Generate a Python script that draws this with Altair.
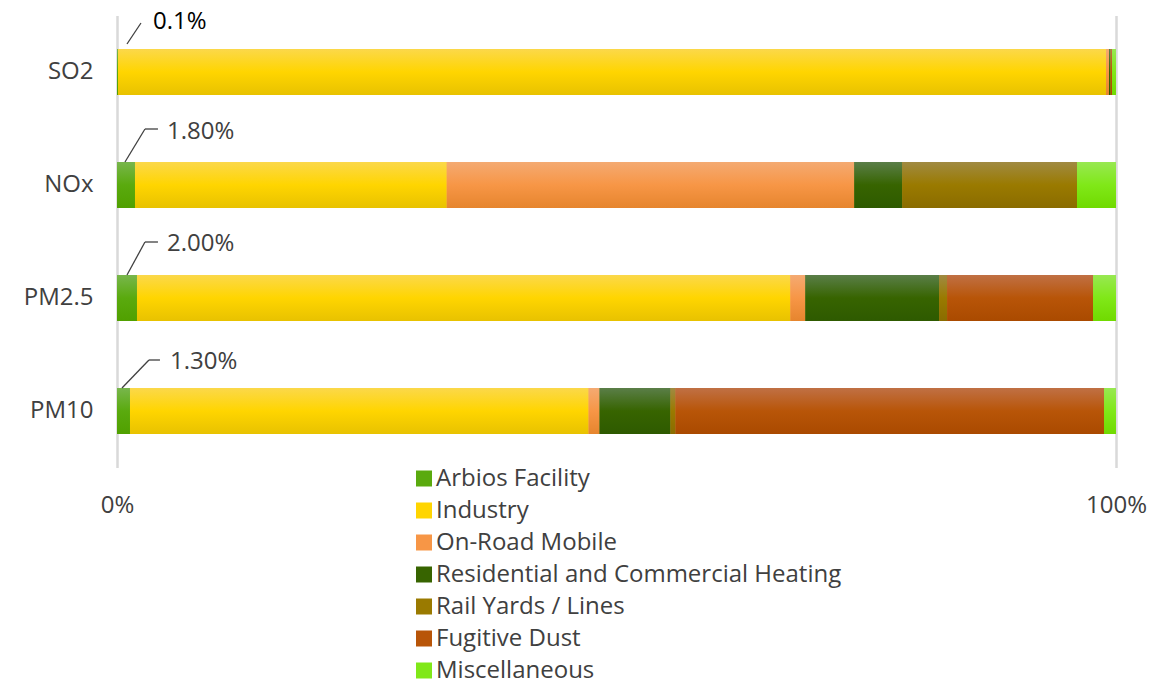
import altair as alt
import pandas as pd

pollutants = ["SO2", "NOx", "PM2.5", "PM10"]
sources = ["Arbios Facility", "Industry", "On-Road Mobile",
           "Residential and Commercial Heating", "Rail Yards / Lines",
           "Fugitive Dust", "Miscellaneous"]

arbios = [0.1, 1.8, 2.0, 1.3]
industry = [98.9, 31.2, 65.4, 45.9]
on_road = [0.3, 40.8, 1.5, 1.1]
residential = [0.1, 4.8, 13.4, 7.1]
rail = [0.1, 17.5, 0.8, 0.5]
fugitive = [0.1, 0.0, 14.6, 42.9]
misc = [0.4, 3.9, 2.3, 1.2]
series = [arbios, industry, on_road, residential, rail, fugitive, misc]

colors_mid = ["#5AAA0E", "#FFD500", "#F79646", "#376400", "#9A7A00", "#B85508", "#80E818"]
colors_top = ["#78B64C", "#FBD84A", "#F4AA72", "#5A7E48", "#A08A42", "#C07044", "#98E852"]
colors_bot = ["#50A000", "#E8C200", "#E6852E", "#2E5A00", "#8A6C00", "#AA4A00", "#70DA00"]

ann_labels = ["0.1%", "1.80%", "2.00%", "1.30%"]
ann_colors = ["#000000", "#404040", "#404040", "#404040"]
ann_tx = [0.036, 0.050, 0.050, 0.053]
ann_ty = [6.0, 116.5, 228.5, 346.5]
# leader line segments
seg_x1 = [0.010, 0.008, 0.028, 0.010, 0.028, 0.005, 0.032]
seg_x2 = [0.024, 0.028, 0.041, 0.028, 0.041, 0.032, 0.043]
seg_y1 = [28.5, 146.5, 113.5, 259.5, 226.5, 372.5, 344.5]
seg_y2 = [7.5, 113.5, 113.5, 226.5, 226.5, 344.5, 344.5]

rows = []
for i, (s, vals) in enumerate(zip(sources, series)):
    for p, v in zip(pollutants, vals):
        rows.append({"pollutant": p, "source": s, "value": v, "order": i})
df = pd.DataFrame(rows)

ann_df = pd.DataFrame({"label": ann_labels, "tc": ann_colors, "tx": ann_tx, "ty": ann_ty})
seg_df = pd.DataFrame({"x1": seg_x1, "x2": seg_x2, "y1": seg_y1, "y2": seg_y2})

FONT = "Open Sans"
x_scale = alt.Scale(domain=[0, 1], nice=False, zero=True)
y_scale = alt.Scale(domain=pollutants, paddingInner=0.593, paddingOuter=0.2965)
x_axis = alt.Axis(values=[0, 1], format=".0%", ticks=False, domain=False,
                  grid=True, gridColor="#D9D9D9", gridWidth=2.5,
                  labelFontSize=24, labelFont=FONT, labelColor="#404040",
                  labelPadding=26, labelFlush=False, title=None)

base = alt.Chart(df).mark_bar().encode(
    x=alt.X("value:Q", stack="normalize", scale=x_scale, title=None, axis=x_axis),
    y=alt.Y("pollutant:N", scale=y_scale, sort=pollutants, title=None,
            axis=alt.Axis(ticks=False, domain=False, labelFontSize=24, labelFont=FONT,
                          labelColor="#404040", labelPadding=24)),
    color=alt.Color("source:N", scale=alt.Scale(domain=sources, range=colors_mid),
                    legend=alt.Legend(title=None, orient="none", legendX=295, legendY=451,
                                      symbolType="square", symbolSize=256,
                                      symbolStrokeWidth=0, labelFontSize=24,
                                      labelFont=FONT, labelColor="#404040",
                                      labelOffset=0, rowPadding=8, padding=0,
                                      labelLimit=600)),
    order=alt.Order("order:Q"),
)

layers = [base]
for i, s in enumerate(sources):
    grad = alt.LinearGradient(
        gradient="linear", x1=0, x2=0, y1=0, y2=1,
        stops=[alt.GradientStop(color=colors_top[i], offset=0),
               alt.GradientStop(color=colors_mid[i], offset=0.5),
               alt.GradientStop(color=colors_bot[i], offset=1)])
    layer = alt.Chart(df).transform_stack(
        stack="value", groupby=["pollutant"], as_=["x0", "x1"], offset="normalize",
        sort=[alt.SortField("order", order="ascending")]
    ).transform_filter(
        (alt.datum.source == s) & (alt.datum.value > 0)
    ).mark_bar(color=grad).encode(
        x=alt.X("x0:Q", scale=x_scale, title=None, axis=x_axis),
        x2="x1:Q",
        y=alt.Y("pollutant:N", scale=y_scale, sort=pollutants, axis=None),
    )
    layers.append(layer)

lines = alt.Chart(seg_df).mark_rule(color="#404040", strokeWidth=1.3).encode(
    x=alt.X("x1:Q", scale=x_scale, title=None, axis=x_axis),
    x2="x2:Q",
    y=alt.Y("y1:Q", scale=None, axis=None),
    y2="y2:Q",
)
texts = alt.Chart(ann_df).mark_text(align="left", baseline="middle", fontSize=24, font=FONT).encode(
    x=alt.X("tx:Q", scale=x_scale, title=None, axis=x_axis),
    y=alt.Y("ty:Q", scale=None, axis=None),
    text="label:N",
    color=alt.Color("tc:N", scale=None),
)
layers += [lines, texts]

chart = alt.layer(*layers).resolve_scale(y="independent", color="independent").properties(
    width=999, height=452,
    padding={"left": 109, "top": 7.5, "right": 40, "bottom": 215},
    autosize=alt.AutoSizeParams(type="none"),
).configure_view(stroke=None)

chart.save("out.html", embed_options={"renderer": "svg", "actions": False})
